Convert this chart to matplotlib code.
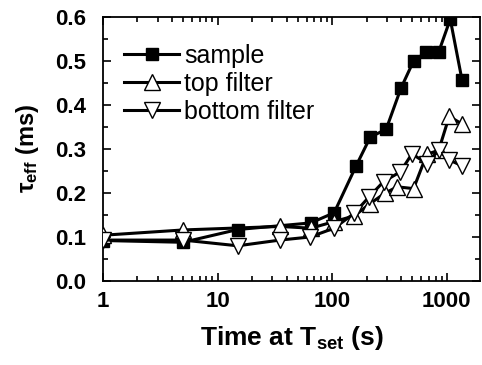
import matplotlib
matplotlib.use("Agg")
import matplotlib.pyplot as plt
from matplotlib.ticker import FixedLocator, NullFormatter, LogLocator, MultipleLocator

plt.rcParams['font.family'] = ['Liberation Sans', 'DejaVu Sans']
plt.rcParams['mathtext.fontset'] = 'custom'
plt.rcParams['mathtext.rm'] = 'Liberation Sans'
plt.rcParams['mathtext.bf'] = 'Liberation Sans:bold'
plt.rcParams['mathtext.it'] = 'Liberation Sans:italic'

# data
sample_t = [1, 5, 15, 65, 104, 162, 215, 296, 398, 513, 662, 849, 1073, 1358]
sample_tau = [0.092, 0.088, 0.117, 0.132, 0.155, 0.262, 0.327, 0.345, 0.438, 0.500, 0.520, 0.520, 0.595, 0.457]

top_t = [1, 5, 35, 65, 104, 156, 212, 290, 370, 513, 670, 850, 1050, 1358]
top_tau = [0.104, 0.116, 0.124, 0.120, 0.135, 0.148, 0.175, 0.200, 0.214, 0.210, 0.288, 0.297, 0.374, 0.357]

bot_t = [1, 5, 15, 35, 64, 104, 156, 208, 281, 393, 497, 670, 850, 1050, 1358]
bot_tau = [0.093, 0.093, 0.080, 0.093, 0.100, 0.120, 0.154, 0.190, 0.226, 0.248, 0.289, 0.267, 0.297, 0.275, 0.262]

xticks = [1, 10, 100, 1000]
xticklabels = ['1', '10', '100', '1000']
yticks = [0.0, 0.1, 0.2, 0.3, 0.4, 0.5, 0.6]

fig = plt.figure(figsize=(4.82, 3.65), dpi=100)
ax = fig.add_axes([103/482, 1-281/365, (480-103)/482, (281-17)/365])

lw = 2.2
ax.plot(sample_t, sample_tau, '-', color='black', lw=lw, marker='s', ms=8,
        mfc='black', mec='black', mew=1, label='sample', zorder=3)
ax.plot(top_t, top_tau, '-', color='black', lw=lw, marker='^', ms=11,
        mfc='white', mec='black', mew=1, label='top filter', zorder=4)
ax.plot(bot_t, bot_tau, '-', color='black', lw=lw, marker='v', ms=11,
        mfc='white', mec='black', mew=1, label='bottom filter', zorder=5)

ax.set_xscale('log')
ax.set_xlim(1, 1950)
ax.set_ylim(0, 0.6)
ax.xaxis.set_major_locator(FixedLocator(xticks))
ax.set_xticklabels(xticklabels)
ax.xaxis.set_minor_locator(LogLocator(base=10, subs=range(2, 10)))
ax.xaxis.set_minor_formatter(NullFormatter())
ax.yaxis.set_major_locator(FixedLocator(yticks))
ax.set_yticklabels(['%.1f' % v for v in yticks])
ax.yaxis.set_minor_locator(MultipleLocator(0.05))

ax.tick_params(which='both', direction='in', top=True, right=True, width=1.2)
ax.tick_params(which='major', length=6, labelsize=16)
ax.tick_params(axis='y', which='major', pad=12)
ax.tick_params(axis='x', which='major', pad=7)
ax.tick_params(which='minor', length=3.5)
for lab in ax.get_xticklabels() + ax.get_yticklabels():
    lab.set_fontweight('bold')
for s in ax.spines.values():
    s.set_linewidth(1.3)

ax.set_xlabel('Time at T$_{\\mathbf{set}}$ (s)', fontsize=19, fontweight='bold', labelpad=9)
ax.set_ylabel('$\\mathbf{\\tau}_{\\mathbf{eff}}$ (ms)', fontsize=17, fontweight='bold', labelpad=10)

leg = ax.legend(loc='upper left', frameon=False, fontsize=18, handlelength=2.2,
                handletextpad=0.2, labelspacing=0.15, borderaxespad=0.0,
                bbox_to_anchor=(0.03, 0.935))

fig.savefig('out.png', dpi=100)
